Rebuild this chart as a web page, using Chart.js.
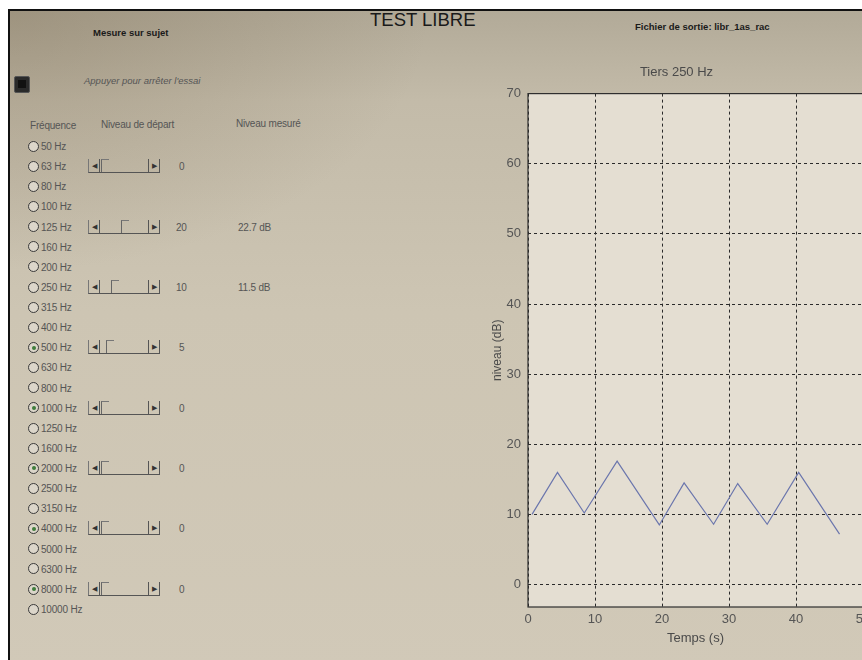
<!DOCTYPE html>
<html>
<head>
<meta charset="utf-8">
<script src="https://cdn.jsdelivr.net/npm/chart.js@4.4.1/dist/chart.umd.min.js"></script>
<style>
  html, body { margin:0; padding:0; }
  body {
    width:862px; height:660px; overflow:hidden; position:relative;
    font-family:"Liberation Sans", Arial, sans-serif; color:#4e4e4e;
    background:#fff;
  }
  #screen {
    position:absolute; left:8px; top:9px; width:860px; height:660px;
    border-left:2px solid #111; border-top:2px solid #111;
    background:
      radial-gradient(ellipse 420px 260px at 0px 0px, rgba(120,105,80,0.35), rgba(120,105,80,0) 100%),
      linear-gradient(to bottom, #b2aa98 0px, #c3bba9 90px, #cdc5b3 300px, #d1c9b8 660px);
  }
  .abs { position:absolute; white-space:nowrap; }
  .radio { position:absolute; width:9px; height:9px; border:1.8px solid #3a3a3a; border-radius:50%; background:#dcd6ca; }
  .radio.on::after { content:""; position:absolute; left:2.5px; top:2.5px; width:4px; height:4px; border-radius:50%; background:#3f7d3c; }
  .lbl { font-size:10px; color:#555; letter-spacing:-0.2px; }
  .slider { position:absolute; width:70px; height:13px; border-bottom:1.5px solid #555; border-left:1px solid #777; border-right:1.5px solid #555; }
  .slider .btn { position:absolute; top:0; width:10px; height:13px; font-size:7px; line-height:13px; text-align:center; color:#333; }
  .slider .btnL { left:0; border-right:1.5px solid #555; }
  .slider .btnR { right:0; border-left:1.5px solid #555; }
  .slider .thumb { position:absolute; top:0; width:7px; height:12px; border-left:1.5px solid #666; border-top:1px solid #777; }
  #chartWrap { position:absolute; left:490px; top:52px; width:382px; height:608px; }
</style>
</head>
<body>
<div id="screen"></div>
<div id="panel"></div>
<div id="chartWrap"><canvas id="c" width="382" height="608"></canvas></div>
<script>
// ---- chart data ----
const times  = [0.6, 4.4, 8.4, 13.3, 19.6, 23.3, 27.7, 31.3, 35.7, 40.4, 46.5];
const levels = [10.0, 16.0, 10.2, 17.6, 8.5, 14.5, 8.6, 14.4, 8.6, 16.0, 7.2];
const xTicks = [0, 10, 20, 30, 40, 50];
const yTicks = [0, 10, 20, 30, 40, 50, 60, 70];
const chartTitle = "Tiers 250 Hz";
const xTitle = "Temps (s)";
const yTitle = "niveau (dB)";

// ---- panel content ----
const frequencies = ["50 Hz","63 Hz","80 Hz","100 Hz","125 Hz","160 Hz","200 Hz","250 Hz","315 Hz","400 Hz","500 Hz","630 Hz","800 Hz","1000 Hz","1250 Hz","1600 Hz","2000 Hz","2500 Hz","3150 Hz","4000 Hz","5000 Hz","6300 Hz","8000 Hz","10000 Hz"];
const checkedFreqs = ["500 Hz","1000 Hz","2000 Hz","4000 Hz","8000 Hz"];
const sliderFreqs  = ["63 Hz","125 Hz","250 Hz","500 Hz","1000 Hz","2000 Hz","4000 Hz","8000 Hz"];
const startLevels  = [0, 20, 10, 5, 0, 0, 0, 0];
const measured     = {"125 Hz":"22.7 dB", "250 Hz":"11.5 dB"};

const panel = document.getElementById('panel');
function add(html){ panel.insertAdjacentHTML('beforeend', html); }

add('<div class="abs" style="left:370px;top:9px;font-size:18.5px;color:#1a1a1a;">TEST LIBRE</div>');
add('<div class="abs" style="left:93px;top:27px;font-size:9.5px;font-weight:bold;color:#1a1a1a;">Mesure sur sujet</div>');
add('<div class="abs" style="left:635px;top:21px;font-size:9.5px;font-weight:bold;color:#1a1a1a;">Fichier de sortie: libr_1as_rac</div>');
add('<div class="abs" style="left:14px;top:76px;width:14px;height:15px;background:#2a2a2a;border:1px solid #555;border-radius:2px;"><div style="position:absolute;left:3px;top:3px;width:8px;height:8px;background:#111;"></div></div>');
add('<div class="abs" style="left:84px;top:75px;font-size:9.5px;font-style:italic;color:#555;">Appuyer pour arrêter l\'essai</div>');
add('<div class="abs lbl" style="left:30px;top:120px;">Fréquence</div>');
add('<div class="abs lbl" style="left:101px;top:119px;">Niveau de départ</div>');
add('<div class="abs lbl" style="left:236px;top:118px;">Niveau mesuré</div>');

frequencies.forEach((f, i) => {
  const cy = 147 + i * 20.13;
  const on = checkedFreqs.includes(f) ? ' on' : '';
  add(`<div class="radio${on}" style="left:28px;top:${cy-6.3}px;"></div>`);
  add(`<div class="abs lbl" style="left:41px;top:${cy-6}px;">${f}</div>`);
  const si = sliderFreqs.indexOf(f);
  if (si >= 0) {
    const v = startLevels[si];
    add(`<div class="slider" style="left:88px;top:${cy-8}px;"><div class="btn btnL">&#9664;</div><div class="thumb" style="left:${12 + v*1.0}px;"></div><div class="btn btnR">&#9654;</div></div>`);
    add(`<div class="abs lbl" style="left:${v >= 10 ? 176 : 179}px;top:${cy-6}px;">${v}</div>`);
  }
  if (measured[f]) {
    add(`<div class="abs lbl" style="left:238px;top:${cy-6}px;">${measured[f]}</div>`);
  }
});

// ---- chart ----
const plotDecor = {
  id: 'plotDecor',
  beforeDraw(chart) {
    const a = chart.chartArea, ctx = chart.ctx;
    ctx.save();
    ctx.fillStyle = '#e4ded2';
    ctx.fillRect(a.left, a.top, a.right - a.left, a.bottom - a.top);
    ctx.restore();
  },
  afterDraw(chart) {
    const a = chart.chartArea, ctx = chart.ctx;
    ctx.save();
    ctx.strokeStyle = '#2e2e2e';
    ctx.lineWidth = 1.2;
    ctx.strokeRect(a.left, a.top, a.right - a.left, a.bottom - a.top);
    ctx.restore();
  }
};

const tickFont = { family: '"Liberation Sans", Arial, sans-serif', size: 13 };

new Chart(document.getElementById('c'), {
  type: 'line',
  data: {
    datasets: [{
      data: times.map((t, i) => ({ x: t, y: levels[i] })),
      borderColor: '#6b76ad',
      borderWidth: 1.2,
      pointRadius: 0,
      tension: 0,
      fill: false
    }]
  },
  options: {
    responsive: false,
    animation: false,
    devicePixelRatio: 1,
    layout: { padding: { left: 0, right: 9, top: 0, bottom: 0 } },
    plugins: {
      legend: { display: false },
      tooltip: { enabled: false },
      title: {
        display: true, text: chartTitle, color: '#4a4a4a',
        font: { family: '"Liberation Sans", Arial, sans-serif', size: 13, weight: 'normal' },
        padding: { top: 13, bottom: 13 }
      }
    },
    scales: {
      x: {
        type: 'linear', min: 0, max: 50,
        afterBuildTicks(s) { s.ticks = xTicks.map(v => ({ value: v })); },
        afterFit(s) { s.height = 53; s.paddingLeft = 0; s.paddingRight = 0; },
        grid: { color: '#2a2a2a', lineWidth: 1, drawTicks: false },
        border: { display: false, dash: [3, 3] },
        ticks: { color: '#555', font: tickFont, padding: 5, maxRotation: 0, autoSkip: false },
        title: { display: true, text: xTitle, color: '#4a4a4a', font: tickFont, padding: 14 }
      },
      y: {
        type: 'linear', min: -3.2, max: 70,
        afterBuildTicks(s) { s.ticks = yTicks.map(v => ({ value: v })); },
        afterFit(s) { s.width = 38; s.paddingTop = 0; s.paddingBottom = 0; },
        grid: { color: '#2a2a2a', lineWidth: 1, drawTicks: false },
        border: { display: false, dash: [3, 3] },
        ticks: { color: '#555', font: tickFont, padding: 7, autoSkip: false },
        title: { display: true, text: yTitle, color: '#4a4a4a', font: { family: '"Liberation Sans", Arial, sans-serif', size: 12 }, padding: 0 }
      }
    }
  },
  plugins: [plotDecor]
});
</script>
</body>
</html>
